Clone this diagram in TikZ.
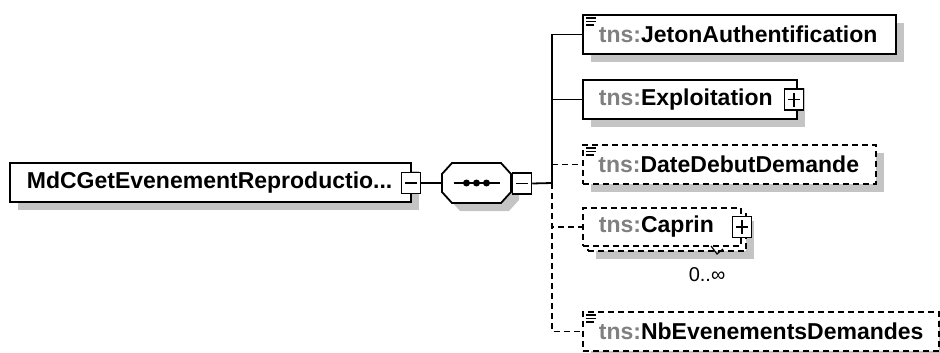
\documentclass[tikz,border=0pt]{standalone}
\usepackage{fontspec}
\setmainfont{Liberation Sans}
\usetikzlibrary{shadows,calc}
\definecolor{shadowgray}{RGB}{196,196,196}
\definecolor{tnsgray}{RGB}{128,128,128}
\begin{document}
\begin{tikzpicture}[x=1pt,y=-1pt,
  every node/.style={font=\fontsize{23}{27}\selectfont\bfseries},
  line/.style={line width=1.8pt},
  dashline/.style={line width=1.8pt, dash pattern=on 6pt off 4pt},
  shad/.style={general shadow={fill=shadowgray, shadow xshift=8pt, shadow yshift=-8pt}},
  elem/.style={draw, line width=1.8pt, fill=white, rectangle, anchor=west,
    minimum height=39pt, inner xsep=16pt, inner ysep=0pt, text width=#1, align=left},
  optional/.style={dash pattern=on 6pt off 4pt},
  pmbox/.style={draw, line width=1.5pt, fill=white, minimum width=19pt,
    minimum height=21pt, inner sep=0pt},
  minusbox/.style={pmbox, path picture={
    \draw[line width=1.5pt] ([xshift=3.5pt]path picture bounding box.west) -- ([xshift=-3.5pt]path picture bounding box.east);}},
  plusbox/.style={pmbox, path picture={
    \draw[line width=1.5pt] ([xshift=3.5pt]path picture bounding box.west) -- ([xshift=-3.5pt]path picture bounding box.east);
    \draw[line width=1.5pt] ([yshift=3.5pt]path picture bounding box.south) -- ([yshift=-3.5pt]path picture bounding box.north);}},
  icon/.style={line width=1.5pt},
  card/.style={font=\fontsize{20}{24}\selectfont\mdseries}
]
\useasboundingbox (0,0) rectangle (940,353);

% main element
\node[elem=367pt, inner xsep=17pt, shad] (main) at (9,182.5) {MdCGetEvenementReproductio...};
\node[minusbox] (mainm) at (411,183) {};

% sequence compositor (octagon)
\node[minimum width=69pt, minimum height=40pt, inner sep=0pt] (seq) at (476.5,183) {};
\fill[shadowgray] ($(seq.center)+(-16.5,-12)$) -- ($(seq.center)+(32.5,-12)$) -- ($(seq.center)+(42.5,-1)$)
  -- ($(seq.center)+(42.5,17)$) -- ($(seq.center)+(32.5,28)$) -- ($(seq.center)+(-16.5,28)$)
  -- ($(seq.center)+(-26.5,17)$) -- ($(seq.center)+(-26.5,-1)$) -- cycle;
\draw[line, fill=white] ($(seq.center)+(-24.5,-20)$) -- ($(seq.center)+(24.5,-20)$) -- ($(seq.center)+(34.5,-9)$)
  -- ($(seq.center)+(34.5,9)$) -- ($(seq.center)+(24.5,20)$) -- ($(seq.center)+(-24.5,20)$)
  -- ($(seq.center)+(-34.5,9)$) -- ($(seq.center)+(-34.5,-9)$) -- cycle;
\draw[line width=1.5pt] ($(seq.center)+(-23,0)$) -- ($(seq.center)+(23,0)$);
\foreach \dx in {-10,0,10} \fill ($(seq.center)+(\dx,0)$) circle (3.5pt);
\node[minusbox] (seqm) at (522,183.5) {};

% children
\node[elem=281pt, shad] (jeton) at (582,34.5) {\textcolor{tnsgray}{tns:}JetonAuthentification};
\node[elem=182pt, shad] (expl) at (582,99.5) {\textcolor{tnsgray}{tns:}Exploitation};
\node[plusbox] (explp) at ($(expl.east)+(-4,0)$) {};
\node[elem=262pt, inner xsep=15.5pt, optional, shad] (date) at (582,164.5) {\textcolor{tnsgray}{tns:}DateDebutDemande};
\node[draw, line width=1.8pt, optional, fill=white, rectangle, anchor=west,
  minimum width=158pt, minimum height=38pt, shad] (caprinback) at (587,232) {};
\node[elem=126pt, optional, minimum height=38pt] (caprin) at (582,227) {\textcolor{tnsgray}{tns:}Caprin};
\node[plusbox] (caprinp) at (caprin.east) {};
\draw[line width=1.2pt] (711,246) -- (717,254) -- (723,249);
\node[card] (cardlabel) at (707,275) {0..∞};
\node[elem=324pt, optional, shad] (nb) at (582,331.5) {\textcolor{tnsgray}{tns:}NbEvenementsDemandes};

% simple-content icons
\foreach \n in {jeton,date,nb}{
  \draw[icon] ([shift={(3.5,4)}]\n.north west) -- ++(10,0);
  \draw[icon] ([shift={(3.5,7.5)}]\n.north west) -- ++(10,0);
  \draw[icon] ([shift={(3.5,11)}]\n.north west) -- ++(8,0);
}

% connectors
\coordinate (j) at (552,183);
\draw[line] (mainm.east) -- (seq.west);
\draw[line] (seqm.east) -- (j);
\draw[line] (j) |- (jeton.west);
\draw[line] (j) |- (expl.west);
\draw[dashline] (date.west -| j) -- (date.west);
\draw[dashline] (j) |- (caprin.west);
\draw[dashline] (j) |- (nb.west);
\end{tikzpicture}
\end{document}
